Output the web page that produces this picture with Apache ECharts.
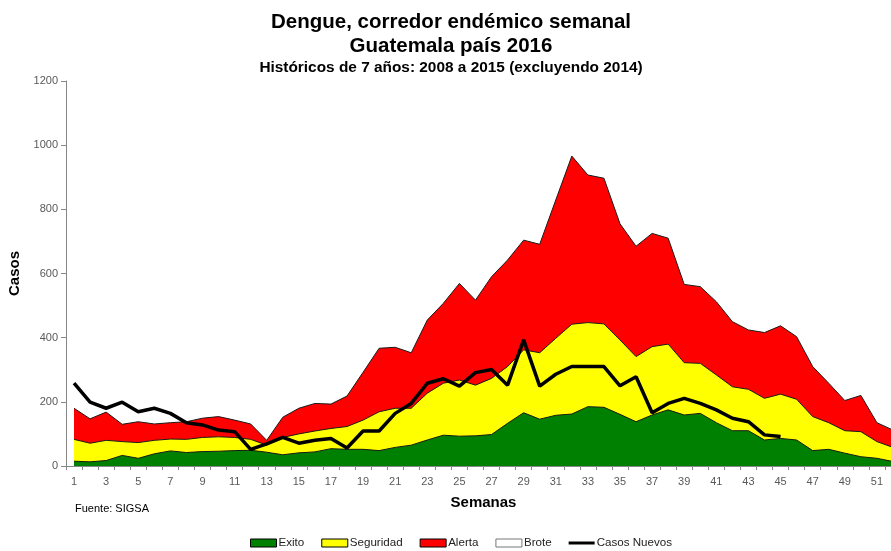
<!DOCTYPE html>
<html><head><meta charset="utf-8">
<script src="https://cdn.jsdelivr.net/npm/echarts@6/dist/echarts.min.js"></script>
<style>html,body{margin:0;padding:0;background:#fff}#c{width:891px;height:551px}</style>
</head><body><div id="c"></div>
<script>
const semanas = Array.from({length: 52}, (_, i) => String(i + 1));
const exito = [15,13,17,33,24,38,47,42,45,46,48,49,43,35,41,44,54,52,52,48,58,65,81,96,93,94,98,133,166,146,158,162,185,183,161,138,159,175,159,164,135,110,110,81,86,81,48,52,40,29,24,14];
const seguridad = [83,71,80,76,73,80,84,83,89,91,89,83,65,89,100,109,117,123,143,169,180,180,227,258,268,252,273,310,362,353,398,442,447,443,393,341,372,380,322,320,284,247,239,211,224,208,154,135,110,107,76,58];
const alerta = [180,147,168,130,138,131,135,138,149,154,143,131,80,152,180,195,193,218,292,367,370,353,455,507,569,517,590,642,704,691,829,966,907,897,755,685,725,710,566,559,512,450,424,416,437,403,310,258,204,220,135,112];
const brote = [];
const casosNuevos = [258,199,180,199,169,180,164,135,128,112,107,52,69,89,71,80,86,56,109,109,164,195,258,272,249,291,301,252,393,249,286,310,310,310,250,278,166,195,211,195,175,149,138,97,92];

const chart = echarts.init(document.getElementById('c'), null, {renderer: 'canvas'});
const ff = 'Liberation Sans, Arial, sans-serif';
function area(name, data, color) {
  return {
    name, type: 'line', data, symbol: 'none', color,
    itemStyle: {color},
    lineStyle: {color: '#1a1a1a', width: 1},
    areaStyle: {color, opacity: 1}
  };
}
chart.setOption({
  animation: false,
  title: [
    {text: 'Dengue, corredor endémico semanal', left: 446, top: 7, textAlign: 'center',
     textStyle: {fontFamily: ff, fontSize: 20.5, fontWeight: 'bold', color: '#000'}},
    {text: 'Guatemala país 2016', left: 446, top: 31, textAlign: 'center',
     textStyle: {fontFamily: ff, fontSize: 20.5, fontWeight: 'bold', color: '#000'}},
    {text: 'Históricos de 7 años: 2008 a 2015 (excluyendo 2014)', left: 446, top: 55, textAlign: 'center',
     textStyle: {fontFamily: ff, fontSize: 15.4, fontWeight: 'bold', color: '#000'}}
  ],
  grid: {left: 66, width: 835, top: 81, bottom: 85, containLabel: false, outerBoundsMode: 'none'},
  legend: {
    left: 245, top: 532, itemWidth: 26, itemHeight: 8, itemGap: 17,
    textStyle: {fontFamily: ff, fontSize: 11.6, color: '#222', padding: [0, 0, 0, -3]},
    data: [
      {name: 'Exito', icon: 'rect', itemStyle: {borderColor: '#000', borderWidth: 1}},
      {name: 'Seguridad', icon: 'rect', itemStyle: {borderColor: '#000', borderWidth: 1}},
      {name: 'Alerta', icon: 'rect', itemStyle: {borderColor: '#000', borderWidth: 1}},
      {name: 'Brote', icon: 'rect', itemStyle: {color: '#fff', borderColor: '#777', borderWidth: 1}},
      {name: 'Casos Nuevos', icon: 'path://M0,0 H26 V3 H0 Z', itemStyle: {color: '#000'}}
    ]
  },
  xAxis: {
    type: 'category', data: semanas, boundaryGap: true,
    name: 'Semanas', nameLocation: 'middle', nameGap: 29,
    nameTextStyle: {fontFamily: ff, fontSize: 15, fontWeight: 'bold', color: '#000'},
    axisLine: {lineStyle: {color: '#868686', width: 1}},
    axisTick: {show: true, interval: 0, length: 4, lineStyle: {color: '#868686'}},
    axisLabel: {interval: 1, fontFamily: ff, fontSize: 11, color: '#595959', margin: 10}
  },
  yAxis: {
    type: 'value', min: 0, max: 1200, interval: 200,
    name: 'Casos', nameLocation: 'middle', nameGap: 43, nameRotate: 90,
    nameTextStyle: {fontFamily: ff, fontSize: 15, fontWeight: 'bold', color: '#000'},
    axisLine: {show: true, lineStyle: {color: '#868686', width: 1}},
    axisTick: {show: true, length: 5, lineStyle: {color: '#868686'}},
    splitLine: {show: false},
    axisLabel: {fontFamily: ff, fontSize: 11, color: '#595959', margin: 8, formatter: v => String(v)}
  },
  graphic: [
    {type: 'text', left: 75, top: 503, style: {text: 'Fuente: SIGSA', font: '11px ' + ff, fill: '#000'}}
  ],
  series: [
    area('Brote', brote, '#ffffff'),
    area('Alerta', alerta, '#ff0000'),
    area('Seguridad', seguridad, '#ffff00'),
    area('Exito', exito, '#008000'),
    {name: 'Casos Nuevos', type: 'line', data: casosNuevos, symbol: 'none', color: '#000',
     lineStyle: {color: '#000', width: 3.5}, z: 5}
  ]
});
</script></body></html>
